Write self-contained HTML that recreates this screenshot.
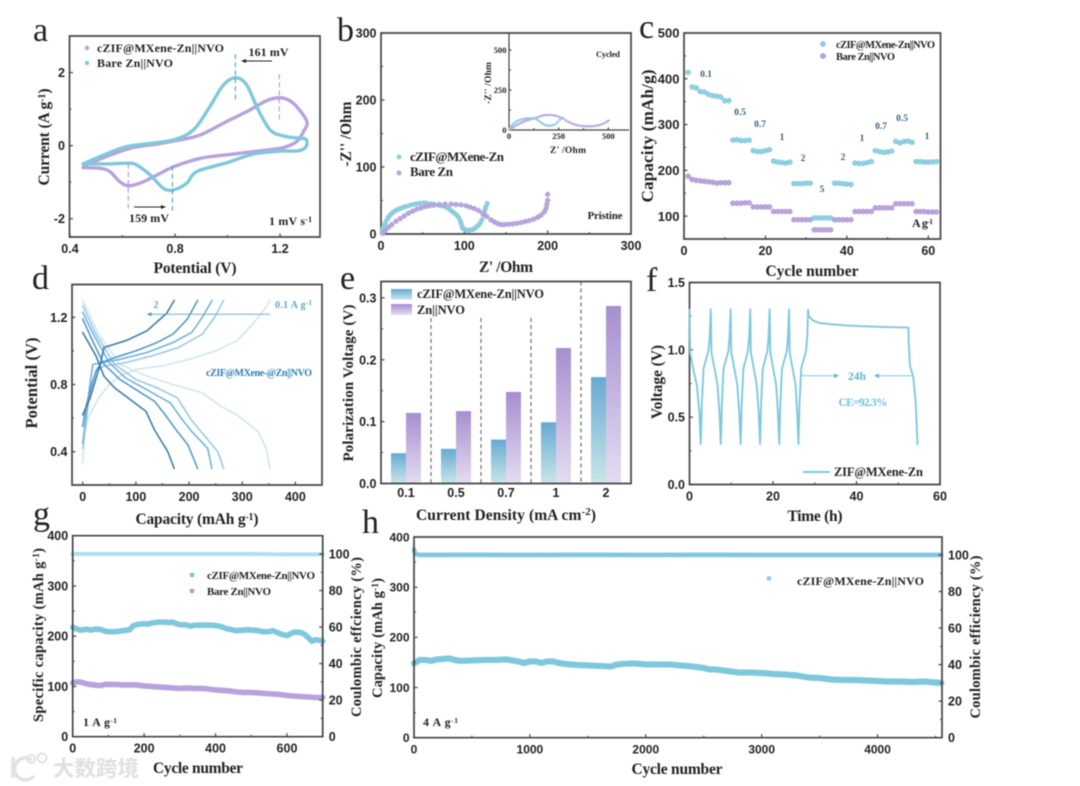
<!DOCTYPE html>
<html lang="en">
<head>
<meta charset="utf-8">
<title>Zn||NVO battery electrochemical performance figure</title>
<style>
html,body{margin:0;padding:0;background:#fff;}
svg{display:block;filter:blur(.55px);}
.s{font-family:"Liberation Serif",serif;font-weight:bold;fill:#222;}
.r{font-family:"Liberation Serif",serif;font-weight:normal;fill:#222;}
.n{font-family:"Liberation Sans",sans-serif;font-weight:bold;fill:#222;}
</style>
</head>
<body>
<svg id="fig" xmlns="http://www.w3.org/2000/svg" width="1080" height="786" viewBox="0 0 1080 786">
<defs>
<linearGradient id="gradBlue" x1="0" y1="0" x2="0" y2="1"><stop offset="0" stop-color="#68a9d2"/><stop offset="1" stop-color="#c8e7e8"/></linearGradient>
<linearGradient id="gradPurple" x1="0" y1="0" x2="0" y2="1"><stop offset="0" stop-color="#a78ed0"/><stop offset="1" stop-color="#e4def1"/></linearGradient>
</defs>

<!-- panel letters -->
<text class="r" x="33" y="41" font-size="34">a</text>
<text class="r" x="337" y="41" font-size="34">b</text>
<text class="r" x="639" y="38" font-size="34">c</text>
<text class="r" x="32" y="289" font-size="34">d</text>
<text class="r" x="340" y="289" font-size="34">e</text>
<text class="r" x="646" y="291" font-size="34">f</text>
<text class="r" x="33" y="525" font-size="34">g</text>
<text class="r" x="362" y="533" font-size="34">h</text>

<!-- axis titles -->
<text class="s" x="195" y="273" font-size="15.5" text-anchor="middle" textLength="83">Potential (V)</text>
<text class="s" x="49" y="137" font-size="15.5" text-anchor="middle" textLength="97" transform="rotate(-90 49 137)">Current (A g<tspan dy="-4" font-size="10">-1</tspan><tspan dy="4">)</tspan></text>
<text class="s" x="506" y="272" font-size="15.5" text-anchor="middle" textLength="54">Z' /Ohm</text>
<text class="s" x="351" y="134" font-size="15.5" text-anchor="middle" textLength="65" transform="rotate(-90 351 134)">-Z'' /Ohm</text>
<text class="s" x="812" y="276" font-size="15.5" text-anchor="middle" textLength="93">Cycle number</text>
<text class="s" x="653" y="136" font-size="17" text-anchor="middle" textLength="133" transform="rotate(-90 653 136)">Capacity (mAh/g)</text>
<text class="s" x="197" y="524" font-size="15.5" text-anchor="middle" textLength="123">Capacity (mAh g<tspan dy="-4" font-size="10">-1</tspan><tspan dy="4">)</tspan></text>
<text class="s" x="37" y="383" font-size="16.5" text-anchor="middle" textLength="91" transform="rotate(-90 37 383)">Potential (V)</text>
<text class="s" x="506" y="520" font-size="15.5" text-anchor="middle" textLength="180">Current Density (mA cm<tspan dy="-5" font-size="11">-2</tspan><tspan dy="5">)</tspan></text>
<text class="s" x="353" y="383" font-size="15" text-anchor="middle" textLength="157" transform="rotate(-90 353 383)">Polarization Voltage (V)</text>
<text class="s" x="815" y="521" font-size="15.5" text-anchor="middle" textLength="55">Time (h)</text>
<text class="s" x="662" y="382" font-size="15.5" text-anchor="middle" textLength="74" transform="rotate(-90 662 382)">Voltage (V)</text>
<text class="s" x="198" y="773" font-size="15.5" text-anchor="middle" textLength="90">Cycle number</text>
<text class="s" x="43" y="635" font-size="14.5" text-anchor="middle" textLength="174" transform="rotate(-90 43 635)">Specific capacity (mAh g<tspan dy="-4" font-size="9.5">-1</tspan><tspan dy="4">)</tspan></text>
<text class="s" x="361" y="637" font-size="14.5" text-anchor="middle" textLength="160" transform="rotate(-90 361 637)">Coulombic effciency (%)</text>
<text class="s" x="677" y="774" font-size="15.5" text-anchor="middle" textLength="91">Cycle number</text>
<text class="s" x="382" y="638" font-size="14.5" text-anchor="middle" textLength="120" transform="rotate(-90 382 638)">Capacity (mAh g<tspan dy="-4" font-size="9.5">-1</tspan><tspan dy="4">)</tspan></text>
<text class="s" x="980" y="637" font-size="14.5" text-anchor="middle" textLength="163" transform="rotate(-90 980 637)">Coulombic efficiency (%)</text>

<!-- annotations a -->
<text class="s" x="97" y="52" font-size="12" textLength="127">cZIF@MXene-Zn||NVO</text>
<text class="s" x="97" y="67" font-size="12" textLength="76">Bare Zn||NVO</text>
<circle cx="87" cy="48" r="2.2" fill="#b7a3dc"/>
<circle cx="87" cy="63" r="2.2" fill="#7fc8dc"/>
<text class="s" x="248.500" y="56" font-size="12" textLength="40">161 mV</text>
<text class="s" x="129" y="222" font-size="12" textLength="40">159 mV</text>
<text class="s" x="269" y="225" font-size="12" textLength="43">1 mV s<tspan dy="-3" font-size="8">-1</tspan></text>

<!-- annotations b -->
<text class="s" x="410" y="161" font-size="13" textLength="94">cZIF@MXene-Zn</text>
<text class="s" x="410" y="176" font-size="13" textLength="43">Bare Zn</text>
<circle cx="399" cy="157" r="2.5" fill="#8fd0e0"/>
<circle cx="399" cy="173" r="2.5" fill="#b7a3dc"/>
<text class="s" x="605" y="219" font-size="11" text-anchor="middle" textLength="35">Pristine</text>
<text class="s" x="608" y="57" font-size="8.500" text-anchor="middle" textLength="24">Cycled</text>
<text class="s" x="568" y="153" font-size="9.5" text-anchor="middle" textLength="36">Z' /Ohm</text>
<text class="s" x="491" y="83" font-size="9.5" text-anchor="middle" textLength="42" transform="rotate(-90 491 83)">-Z'' /Ohm</text>

<!-- annotations c -->
<text class="s" x="836" y="48" font-size="10.500" textLength="99">cZIF@MXene-Zn||NVO</text>
<text class="s" x="836" y="60" font-size="10.500" textLength="59">Bare Zn||NVO</text>
<circle cx="823" cy="44" r="2.6" fill="#8fd0e0" stroke="#6fb8cc" stroke-width=".5"/>
<circle cx="823" cy="56" r="2.6" fill="#b7a3dc" stroke="#a08bcb" stroke-width=".5"/>
<text class="s" x="912" y="227" font-size="12" textLength="21">A g<tspan dy="-3" font-size="7.5">-1</tspan></text>
<g class="s" font-size="9.500" text-anchor="middle" style="fill:#35607c">
<text class="s" style="fill:#35607c" x="706" y="77">0.1</text>
<text class="s" style="fill:#35607c" x="740" y="115">0.5</text>
<text class="s" style="fill:#35607c" x="760" y="127">0.7</text>
<text class="s" style="fill:#35607c" x="782" y="140">1</text>
<text class="s" style="fill:#35607c" x="803" y="161">2</text>
<text class="s" style="fill:#35607c" x="822" y="192">5</text>
<text class="s" style="fill:#35607c" x="843" y="160">2</text>
<text class="s" style="fill:#35607c" x="862" y="141">1</text>
<text class="s" style="fill:#35607c" x="881" y="129">0.7</text>
<text class="s" style="fill:#35607c" x="902" y="121">0.5</text>
<text class="s" style="fill:#35607c" x="927" y="139">1</text>
</g>

<!-- annotations d -->
<text class="s" style="fill:#5fa5cf" x="156" y="308" font-size="10" text-anchor="middle">2</text>
<text class="s" style="fill:#5fa5cf" x="275" y="308" font-size="10" textLength="37">0.1 A g<tspan dy="-3" font-size="7">-1</tspan></text>
<text class="s" style="fill:#2f7db2" x="206" y="376" font-size="10" textLength="106">cZIF@MXene-@Zn||NVO</text>

<!-- annotations e -->
<rect x="391" y="289" width="21" height="10.500" fill="url(#gradBlue)"/>
<rect x="391" y="304" width="21" height="11" fill="url(#gradPurple)"/>
<text class="s" x="417" y="298" font-size="12.5" textLength="127">cZIF@MXene-Zn||NVO</text>
<text class="s" x="417" y="314" font-size="12.5" textLength="48">Zn||NVO</text>

<!-- annotations f -->
<g fill="none" stroke="#7fc8dc" stroke-width="1">
<path d="M800 375.700H838"/>
<path d="M912 375.700H875"/>
</g>
<path d="M839 375.700l-5-2.500v5z" fill="#6ab7cf"/>
<path d="M874 375.700l5-2.500v5z" fill="#6ab7cf"/>
<text class="s" style="fill:#5db4d0" x="857" y="380" font-size="11.5" text-anchor="middle">24h</text>
<text class="s" style="fill:#6fc0d8" x="863" y="406" font-size="11.5" text-anchor="middle" textLength="49">CE=92.3%</text>
<path d="M803 472H830" stroke="#7fc8dc" stroke-width="2"/>
<text class="s" x="834" y="476" font-size="12.5" textLength="89">ZIF@MXene-Zn</text>

<!-- annotations g -->
<circle cx="192" cy="575" r="2.500" fill="#7fc8dc"/>
<circle cx="192" cy="591" r="2.500" fill="#b7a3dc"/>
<text class="s" x="207" y="579" font-size="11" textLength="108">cZIF@MXene-Zn||NVO</text>
<text class="s" x="207" y="595" font-size="11" textLength="64">Bare Zn||NVO</text>
<text class="s" x="83" y="726" font-size="12" textLength="34">1 A g<tspan dy="-3" font-size="7.5">-1</tspan></text>

<!-- annotations h -->
<circle cx="769" cy="578.500" r="2.500" fill="#8fd0e0"/>
<text class="s" x="797" y="585" font-size="12" textLength="127">cZIF@MXene-Zn||NVO</text>
<text class="s" x="423" y="726" font-size="12" textLength="35">4 A g<tspan dy="-3" font-size="7.5">-1</tspan></text>

<!-- watermark -->
<g>
<path d="M13 757V778M32 760a11 11 0 1 0 2 16" fill="none" stroke="#e2e2e2" stroke-width="3.500"/>
<circle cx="31" cy="759" r="4" fill="none" stroke="#e2e2e2" stroke-width="2"/>
<circle cx="42" cy="758" r="4.500" fill="none" stroke="#e2e2e2" stroke-width="2"/>
<text x="53" y="776" font-size="21.500" fill="#e0e0e0" font-weight="bold" style="font-family:'Liberation Sans','Noto Sans CJK SC',sans-serif">大数跨境</text>
</g>
</svg>

<script>
// ---------- panel a: CV ----------
const cvBareV = [0.45,0.514,0.603,0.68,0.793,0.87,0.933,0.984,1.032,1.073,1.117,1.162,1.213,1.276,1.30,1.299,1.27,1.2,1.098,0.997,0.883,0.844,0.794,0.756,0.705,0.654,0.622,0.552,0.45];
const cvBareI = [-0.5,-0.3,-0.05,0.04,0.155,0.43,1.07,1.66,1.86,1.66,0.98,0.43,0.265,0.2,0.17,-0.03,-0.14,-0.15,-0.23,-0.47,-0.71,-1.03,-1.21,-1.17,-0.8,-0.53,-0.48,-0.5,-0.5];
const cvCzifV = [0.45,0.514,0.552,0.59,0.625,0.679,0.743,0.794,0.895,1.022,1.149,1.213,1.263,1.289,1.302,1.263,1.232,1.197,1.149,1.073,0.997,0.895,0.806,0.73,0.641,0.552,0.463,0.45];
const cvCzifI = [-0.6,-0.62,-0.71,-0.99,-1.1,-0.99,-0.76,-0.58,-0.35,-0.23,-0.12,-0.05,0.11,0.38,0.66,1.07,1.25,1.31,1.23,0.93,0.66,0.29,0.14,0.04,-0.05,-0.26,-0.53,-0.6];
const cvXTicks = [0.4,0.8,1.2];
const cvXLabels = ['0.4','0.8','1.2'];
const cvYTicks = [-2,0,2];
const cvYLabels = ['-2','0','2'];

// ---------- panel b: Nyquist ----------
const eisCzifX = [1.5,3,5,7,9,11,13,15,18,21,24,27,30,34,38,42,46,51,55,60,64,69,73,77,80,83,86,88,91,93,95,96,97,98,100,101,103,105,108,111,113,115,117,119,121,123,124,125,126,127.5];
const eisCzifY = [6,11,16,21,25,28,31,33,35,37,38.5,40,41,42.5,44,45,46,46.5,46,45,44,43,42,41,39,36,33,31,28,25,20,16,12,8.5,7,6,5.5,5.5,6,7,9,11,13,16,21,28,32,37,41,45.5];
const eisBareX = [2,5,9,13,18,23,28,33,38,43,48,53,58,63,70,77,84,90,96,102,107,112,117,122,127,132,136,140,144,148,153,158,163,168,173,178,183,188,192,196,198,199,200,200];
const eisBareY = [1,5,10,14,19,23,27,31,34,37,39,41,42,43,44,44.5,44.5,44,43.5,42,40,38,35,31,26,21,18,15.5,14,14,14.5,15,16,17,18.5,20,22,25,28,33,38,44,50,59];
const eisInsetCzifX = [3,8,14,20,28,36,45,55,65,75,85,95,105,115,125,135,145,155,165,175,185,195,205,215,225,235,245,255,262,270];
const eisInsetCzifY = [8,18,28,36,44,52,58,63,67,70,72,73,73,73,72,70,62,52,42,35,30,28,27,28,31,38,50,63,72,76];
const eisInsetBareX = [3,10,20,30,40,50,60,70,80,90,100,110,120,130,142,154,166,178,190,202,214,226,238,250,262,274,286,298,310,322,334,346,358,370,382,394,406,418,430,442,454,466,478,490,500];
const eisInsetBareY = [3,8,16,24,32,38,44,50,55,60,64,68,71,74,78,84,89,92,94,94,94,92,88,83,77,70,60,52,45,38,33,29,26,25,24,23,23,24,25,27,30,35,42,50,58];
const eisTicks = [0,100,200,300];
const eisLabels = ['0','100','200','300'];
const eisInsetTicks = [0,250,500];
const eisInsetLabels = ['0','250','500'];

// ---------- panel c: rate ----------
const rateCycles = [1,2,3,4,5,6,7,8,9,10,11,12,13,14,15,16,17,18,19,20,21,22,23,24,25,26,27,28,29,30,31,32,33,34,35,36,37,38,39,40,41,42,43,44,45,46,47,48,49,50,51,52,53,54,55,56,57,58,59,60,61,62];
const rateCzif = [414,382,380,372,371,366,363,362,360,352,352,266,267,265,265,266,243,241,241,243,245,220,218,217,216,218,171,171,171,172,172,96,96,96,96,96,172,172,171,170,169,216,215,215,217,219,243,241,239,240,242,263,260,263,264,261,219,219,218,218,218,219];
const rateBare = [187,180,178,177,176,175,174,172,173,173,173,128,128,128,129,129,120,120,120,120,120,110,110,110,110,110,92,92,92,92,92,70,70,70,70,70,92,92,92,92,92,110,110,110,110,110,118,118,118,118,118,127,127,127,127,127,110,110,110,109,109,109];
const rateXTicks = [0,20,40,60];
const rateXLabels = ['0','20','40','60'];
const rateYTicks = [100,200,300,400,500];
const rateYLabels = ['100','200','300','400','500'];

// ---------- panel d: GCD at rates ----------
const gcdChargeX2 = [0,14,33,40,83,121,158,172];
const gcdChargeV2 = [0.62,0.72,0.92,1.02,1.063,1.12,1.224,1.3];
const gcdDischargeX2 = [0,25,40,60,119,135,160,172];
const gcdDischargeV2 = [1.11,0.97,0.85,0.78,0.64,0.53,0.4,0.3];
const gcdChargeX1 = [0,5,15,25,35,60,100,140,170,197,216];
const gcdChargeV1 = [0.55,0.65,0.78,0.88,0.93,0.96,1.0,1.05,1.1,1.19,1.3];
const gcdDischargeX1 = [0,20,40,70,100,135,155,178,198,216];
const gcdDischargeV1 = [1.19,1.05,0.92,0.83,0.77,0.7,0.62,0.52,0.44,0.3];
const gcdChargeX07 = [0,6,12,19,30,70,120,170,205,225,243];
const gcdChargeV07 = [0.45,0.6,0.76,0.92,0.925,0.95,0.99,1.05,1.11,1.2,1.3];
const gcdDischargeX07 = [0,20,50,80,120,165,185,205,235,243];
const gcdDischargeV07 = [1.23,1.1,0.93,0.84,0.77,0.69,0.6,0.52,0.42,0.3];
const gcdChargeX05 = [0,5,12,25,40,80,130,180,225,248,265];
const gcdChargeV05 = [0.42,0.55,0.72,0.88,0.91,0.93,0.97,1.02,1.1,1.2,1.3];
const gcdDischargeX05 = [0,25,60,100,140,178,204,233,254,265];
const gcdDischargeV05 = [1.27,1.1,0.92,0.83,0.78,0.72,0.59,0.48,0.4,0.3];
const gcdChargeX01 = [0,3,10,30,50,70,100,150,200,250,290,320,340,352];
const gcdChargeV01 = [0.33,0.5,0.6,0.72,0.8,0.85,0.89,0.91,0.95,1.0,1.06,1.16,1.24,1.3];
const gcdDischargeX01 = [0,30,70,120,170,225,260,290,330,345,352];
const gcdDischargeV01 = [1.3,1.1,0.92,0.85,0.8,0.75,0.67,0.62,0.52,0.42,0.3];
const gcdXTicks = [0,100,200,300,400];
const gcdXLabels = ['0','100','200','300','400'];
const gcdYTicks = [0.4,0.8,1.2];
const gcdYLabels = ['0.4','0.8','1.2'];

// ---------- panel e: polarization bars ----------
const polCategories = ['0.1','0.5','0.7','1','2'];
const polCzif = [0.049,0.056,0.071,0.099,0.172];
const polZn = [0.114,0.117,0.148,0.219,0.287];
const polYTicks = [0,0.1,0.2,0.3];
const polYLabels = ['0.0','0.1','0.2','0.3'];

// ---------- panel f: self-discharge ----------
const sdTime = [0,0.16,1,1.76,2.4,2.7,2.95,3.36,4.5,4.85,5.1,5.25,6,6.7,7.2,7.5,7.75,8.15,9.3,9.6,9.85,10,10.75,11.45,11.95,12.25,12.5,12.9,14,14.3,14.55,14.7,15.4,16.1,16.6,16.9,17.15,17.55,18.65,18.95,19.2,19.35,20.05,20.75,21.2,21.5,21.75,22.15,23.3,23.6,23.85,24,24.7,25.4,25.8,26.1,26.35,26.75,27.9,28.2,28.4,28.55,29.5,31,34,38,42,46,52.4,52.6,52.8,53.6,54.2,54.6];
const sdVolt = [1.3,0.98,0.84,0.74,0.52,0.3,0.6,0.86,0.99,1.1,1.3,0.98,0.86,0.74,0.52,0.3,0.6,0.86,0.99,1.1,1.3,0.98,0.86,0.74,0.52,0.3,0.6,0.86,0.99,1.1,1.3,0.98,0.86,0.74,0.52,0.3,0.6,0.86,0.99,1.1,1.3,0.98,0.86,0.74,0.52,0.3,0.6,0.86,0.99,1.1,1.3,0.98,0.86,0.74,0.52,0.3,0.6,0.86,0.99,1.1,1.3,1.25,1.22,1.2,1.19,1.18,1.175,1.17,1.165,1.0,0.88,0.8,0.6,0.3];
const sdXTicks = [0,20,40,60];
const sdXLabels = ['0','20','40','60'];
const sdYTicks = [0,0.5,1,1.5];
const sdYLabels = ['0.0','0.5','1.0','1.5'];

// ---------- panel g: 1 A/g cycling ----------
const cycGCzifX = [0,10,20,30,40,50,60,70,80,90,100,110,120,130,140,150,160,170,180,190,200,210,220,230,240,250,260,270,280,290,300,310,320,330,340,350,360,370,380,390,400,410,420,430,440,450,460,470,480,490,500,510,520,530,540,550,560,570,580,590,600,610,620,630,640,650,660,670,680,690,700];
const cycGCzifY = [218,215,212,213,214,212,214,214,213,210,209,209,209,210,211,212,213,221,223,224,225,224,226,227,228,228,228,227,228,225,223,223,222,220,222,222,222,222,222,222,221,220,218,215,214,212,211,212,212,213,212,212,211,209,209,209,211,208,205,203,201,205,208,208,207,203,197,190,193,192,190];
const cycGBareX = [0,10,20,30,40,50,60,70,80,90,100,120,140,160,180,200,220,240,260,280,300,320,340,360,380,400,420,440,460,480,500,520,540,560,580,600,620,640,660,680,700];
const cycGBareY = [107,109,109,107,105,104,103,102,102,104,104,104,103,103,103,101,100,99,98,97,96,97,96,96,95,93,92,91,89,88,88,87,86,85,84,82,81,80,79,78,78];
const cycGCeX = [0,100,200,300,400,500,600,700];
const cycGCeY = [100,100,100,100,100,100,99.8,99.8];
const cycGXTicks = [0,200,400,600];
const cycGXLabels = ['0','200','400','600'];
const cycGYTicks = [0,100,200,300,400];
const cycGYLabels = ['0','100','200','300','400'];
const cycRightTicks = [0,20,40,60,80,100];
const cycRightLabels = ['0','20','40','60','80','100'];

// ---------- panel h: 4 A/g cycling ----------
const cycHX = [0,50,100,150,200,250,300,350,400,500,600,700,800,850,900,950,1000,1050,1100,1150,1200,1250,1300,1400,1500,1600,1700,1750,1800,1900,2000,2100,2200,2300,2400,2500,2550,2600,2700,2800,2900,3000,3100,3200,3300,3400,3500,3600,3700,3800,3900,4000,4100,4200,4300,4400,4500,4550];
const cycHY = [148,155,155,153,156,157,158,155,153,154,155,155,156,154,152,149,152,152,149,152,152,149,147,145,144,143,142,146,147,148,146,146,146,144,142,139,136,136,133,130,130,129,127,126,124,120,119,116,115,115,114,113,112,112,111,112,110,109];
const cycHCeX = [0,10,50,500,1000,1500,2000,2500,3000,3500,4000,4550];
const cycHCeY = [103,100.5,100,100.1,100,100.1,100,100.1,100,100,100,100];
const cycHXTicks = [0,1000,2000,3000,4000];
const cycHXLabels = ['0','1000','2000','3000','4000'];
const cycHYTicks = [0,100,200,300,400];
const cycHYLabels = ['0','100','200','300','400'];

// ---------- helpers ----------
const NS = 'http://www.w3.org/2000/svg';
const fig = document.getElementById('fig');
const BLUE = '#7fc8dc', PURPLE = '#b7a3dc', AXIS = '#444';

function mk(tag, attrs, parent) {
  const e = document.createElementNS(NS, tag);
  for (const k in attrs) e.setAttribute(k, attrs[k]);
  (parent || fig).appendChild(e);
  return e;
}
function scale(d0, d1, p0, p1) {
  return v => p0 + (v - d0) * (p1 - p0) / (d1 - d0);
}
function minorsOf(ticks, lo, hi) {
  const out = [];
  const step = ticks[1] - ticks[0];
  for (let i = 0; i < ticks.length; i++) {
    const m = ticks[i] + step / 2;
    if (m > lo && m < hi) out.push(m);
  }
  const first = ticks[0] - step / 2;
  if (first > lo && first < hi) out.push(first);
  return out;
}
function tickLine(x1, y1, x2, y2, w, prefix) {
  const t = mk('line', {x1, y1, x2, y2, stroke: AXIS, 'stroke-width': w});
  
  
}
function tickText(str, x, y, anchor, fs, cls, prefix) {
  const t = mk('text', {x, y, 'text-anchor': anchor, 'font-size': fs, class: cls});
  t.textContent = str;
  
  
}
function frameBox(box, prefix, open) {
  const d = open
    ? `M${box.l} ${box.t}V${box.b}H${box.r}`
    : `M${box.l} ${box.t}H${box.r}V${box.b}H${box.l}Z`;
  const f = mk('path', {d, fill: 'none', stroke: AXIS, 'stroke-width': open ? 1.2 : 1.7});
  
  
}
function xAxis(box, X, vals, labels, prefix, o) {
  const opt = o || {};
  const fs = opt.fs || 12.5, cls = opt.cls || 'n', off = opt.off || 16, len = opt.len || 3.5;
  vals.forEach((v, i) => {
    tickLine(X(v), box.b, X(v), box.b - len, 1.2, prefix + '-x');
    tickText(labels[i], X(v), box.b + off, 'middle', fs, cls, prefix + '-x');
  });
  if (!opt.noMinor) {
    const lo = Math.min(X.dMin, X.dMax), hi = Math.max(X.dMin, X.dMax);
    minorsOf(vals, lo, hi).forEach(v => tickLine(X(v), box.b, X(v), box.b - 2, 1, prefix + '-x-minor'));
  }
}
function yAxis(box, Y, vals, labels, prefix, o) {
  const opt = o || {};
  const fs = opt.fs || 12.5, cls = opt.cls || 'n', off = opt.off || 4.5, len = opt.len || 3.5;
  vals.forEach((v, i) => {
    tickLine(box.l, Y(v), box.l + len, Y(v), 1.2, prefix + '-y');
    tickText(labels[i], box.l - off, Y(v) + fs * 0.36, 'end', fs, cls, prefix + '-y');
  });
  if (!opt.noMinor) {
    minorsOf(vals, Y.dMin, Y.dMax).forEach(v => tickLine(box.l, Y(v), box.l + 2, Y(v), 1, prefix + '-y-minor'));
  }
}
function rightAxis(box, Y, vals, labels, prefix) {
  vals.forEach((v, i) => {
    tickLine(box.r, Y(v), box.r - 3.5, Y(v), 1.2, prefix + '-right');
    tickText(labels[i], box.r + 6, Y(v) + 4.5, 'start', 12.5, 'n', prefix + '-right');
  });
  minorsOf(vals, Y.dMin, Y.dMax).forEach(v => tickLine(box.r, Y(v), box.r - 2, Y(v), 1, prefix + '-right-minor'));
}
function makeScale(d0, d1, p0, p1) {
  const s = scale(d0, d1, p0, p1);
  s.dMin = d0;
  s.dMax = d1;
  return s;
}
function polyPath(xs, ys, X, Y) {
  return xs.map((v, i) => (i ? 'L' : 'M') + X(v).toFixed(2) + ' ' + Y(ys[i]).toFixed(2)).join('');
}
function smoothPath(xs, ys, X, Y) {
  const P = xs.map((v, i) => [X(v), Y(ys[i])]);
  let d = 'M' + P[0][0].toFixed(2) + ' ' + P[0][1].toFixed(2);
  for (let i = 0; i < P.length - 1; i++) {
    const p0 = P[Math.max(i - 1, 0)], p1 = P[i], p2 = P[i + 1], p3 = P[Math.min(i + 2, P.length - 1)];
    const c1x = p1[0] + (p2[0] - p0[0]) / 6, c1y = p1[1] + (p2[1] - p0[1]) / 6;
    const c2x = p2[0] - (p3[0] - p1[0]) / 6, c2y = p2[1] - (p3[1] - p1[1]) / 6;
    d += `C${c1x.toFixed(2)} ${c1y.toFixed(2)} ${c2x.toFixed(2)} ${c2y.toFixed(2)} ${p2[0].toFixed(2)} ${p2[1].toFixed(2)}`;
  }
  return d;
}
function strokeStyle(color, w) {
  return {fill: 'none', stroke: color, 'stroke-width': w, 'stroke-linejoin': 'round', 'stroke-linecap': 'round'};
}
function dotsOf(xs, ys, X, Y, r, fill, edge, name) {
  xs.forEach((v, i) => {
    const c = mk('circle', {cx: X(v), cy: Y(ys[i]), r, fill, stroke: edge, 'stroke-width': 0.5});
    
    
  });
}

// ---------- panel a ----------
const boxA = {l: 69.5, r: 320, t: 36, b: 237};
const aX = makeScale(0.4, 1.356, 70, 321);
const aY = makeScale(-2.5, 3, 237, 36);
frameBox(boxA, 'a');
xAxis(boxA, aX, cvXTicks, cvXLabels, 'a');
yAxis(boxA, aY, cvYTicks, cvYLabels, 'a');
const aPeakLines = [[1.197, 1.95, 0.65, '#b48df0'], [0.622, -0.5, -1.72, '#b48df0'], [1.03, 2.5, 1.2, '#4a9cc4'], [0.79, -0.55, -1.85, '#4a9cc4']];
const cvCzifLine = mk('path', Object.assign({d: smoothPath(cvCzifV, cvCzifI, aX, aY)}, strokeStyle(PURPLE, 3.4)));


const cvBareLine = mk('path', Object.assign({d: smoothPath(cvBareV, cvBareI, aX, aY)}, strokeStyle(BLUE, 3.4)));


aPeakLines.forEach(p => {
  const l = mk('line', {x1: aX(p[0]), x2: aX(p[0]), y1: aY(p[1]), y2: aY(p[2]), stroke: p[3], 'stroke-width': 1.1, 'stroke-dasharray': '5 3'});
  
  
});
const aArrowTop = mk('path', {d: 'M272 61H245', stroke: '#222', 'stroke-width': 1, fill: 'none'});


const aHeadTop = mk('path', {d: 'M241 61l5-2v4z', fill: '#222'});


const aArrowBot = mk('path', {d: 'M134 207H162', stroke: '#222', 'stroke-width': 1, fill: 'none'});


const aHeadBot = mk('path', {d: 'M166 207l-5-2v4z', fill: '#222'});



// ---------- panel b ----------
const boxB = {l: 381, r: 631, t: 33, b: 234};
const bX = makeScale(0, 300, 381, 631);
const bY = makeScale(0, 300, 234, 33);
frameBox(boxB, 'b');
xAxis(boxB, bX, eisTicks, eisLabels, 'b');
yAxis(boxB, bY, eisTicks, eisLabels, 'b');
dotsOf(eisCzifX, eisCzifY, bX, bY, 2.3, '#8fd0e0', '#7cc4d6', 'b-czif-point');
dotsOf(eisBareX, eisBareY, bX, bY, 2.4, '#b9a6de', '#a893d2', 'b-bare-point');
const boxBi = {l: 509, r: 629, t: 33, b: 130};
const biX = makeScale(0, 604, 509, 629);
const biY = makeScale(0, 606, 130, 33);
frameBox(boxBi, 'b-inset', true);
xAxis(boxBi, biX, eisInsetTicks, eisInsetLabels, 'b-inset', {fs: 8.5, cls: 's', off: 9, len: 2.5});
yAxis(boxBi, biY, eisInsetTicks, eisInsetLabels, 'b-inset', {fs: 8.5, cls: 's', off: 2.5, len: 2.5});
dotsOf(eisInsetBareX, eisInsetBareY, biX, biY, 1.1, '#b9a6de', '#b9a6de', 'b-inset-bare-point');
dotsOf(eisInsetCzifX, eisInsetCzifY, biX, biY, 1.1, '#8fd0e0', '#8fd0e0', 'b-inset-czif-point');

// ---------- panel c ----------
const boxC = {l: 684, r: 940.5, t: 33, b: 239};
const cX = makeScale(0, 63, 684, 940.5);
const cY = makeScale(50, 500, 239, 33);
frameBox(boxC, 'c');
xAxis(boxC, cX, rateXTicks, rateXLabels, 'c');
yAxis(boxC, cY, rateYTicks, rateYLabels, 'c', {fs: 13});
dotsOf(rateCycles, rateBare, cX, cY, 2.5, '#b9a6de', '#a08bcb', 'c-bare-point');
dotsOf(rateCycles, rateCzif, cX, cY, 2.5, '#8fd3e2', '#6fb8cc', 'c-czif-point');

// ---------- panel d ----------
const boxD = {l: 72, r: 322, t: 284.5, b: 485};
const dX = makeScale(0, 450, 82.7, 322);
const dY = makeScale(0.4, 1.2, 451.7, 317.3);
frameBox(boxD, 'd');
xAxis(boxD, dX, gcdXTicks, gcdXLabels, 'd');
yAxis(boxD, dY, gcdYTicks, gcdYLabels, 'd');
const dCurves = [
  [gcdChargeX01, gcdChargeV01, gcdDischargeX01, gcdDischargeV01, '#cfe6f0', '0.1'],
  [gcdChargeX05, gcdChargeV05, gcdDischargeX05, gcdDischargeV05, '#9cc9e2', '0.5'],
  [gcdChargeX07, gcdChargeV07, gcdDischargeX07, gcdDischargeV07, '#74b2d8', '0.7'],
  [gcdChargeX1, gcdChargeV1, gcdDischargeX1, gcdDischargeV1, '#559bc8', '1'],
  [gcdChargeX2, gcdChargeV2, gcdDischargeX2, gcdDischargeV2, '#3f7fa8', '2']
];
dCurves.forEach(c => {
  const ch = mk('path', Object.assign({d: polyPath(c[0], c[1], dX, dY)}, strokeStyle(c[4], 1.6)));
  
  
  const dis = mk('path', Object.assign({d: polyPath(c[2], c[3], dX, dY)}, strokeStyle(c[4], 1.6)));
  
  
});
const dArrow = mk('path', {d: 'M270 314.3H150', stroke: '#6eb0d4', 'stroke-width': 1, fill: 'none'});


const dHead = mk('path', {d: 'M146.5 314.3l5-2v4z', fill: '#4f9ccb'});



// ---------- panel e ----------
const boxE = {l: 381, r: 631, t: 281.5, b: 483.5};
const eY = makeScale(0, 0.3265, 483.5, 281.5);
const eBand = (boxE.r - boxE.l) / polCategories.length;
const eCenter = i => boxE.l + (i + 0.5) * eBand;
const eBarW = eBand * 0.3;
polCategories.forEach((c, i) => {
  const a = mk('rect', {x: eCenter(i) - eBarW, y: eY(polCzif[i]), width: eBarW, height: eY(0) - eY(polCzif[i]), fill: 'url(#gradBlue)'});
  
  
  const b = mk('rect', {x: eCenter(i), y: eY(polZn[i]), width: eBarW, height: eY(0) - eY(polZn[i]), fill: 'url(#gradPurple)'});
  
  
  tickText(c, eCenter(i), 497, 'middle', 12.5, 'n', 'e-x');
  if (i < polCategories.length - 1) {
    const sep = mk('line', {x1: boxE.l + (i + 1) * eBand, x2: boxE.l + (i + 1) * eBand, y1: i === 3 ? boxE.t : 318, y2: boxE.b, stroke: '#777', 'stroke-width': 1.3, 'stroke-dasharray': '4 3'});
    
    
  }
});
frameBox(boxE, 'e');
yAxis(boxE, eY, polYTicks, polYLabels, 'e');

// ---------- panel f ----------
const boxF = {l: 689.5, r: 940, t: 282.5, b: 484.5};
const fX = makeScale(0, 60, 689.5, 940);
const fY = makeScale(0, 1.5, 484.5, 282.5);
frameBox(boxF, 'f');
xAxis(boxF, fX, sdXTicks, sdXLabels, 'f');
yAxis(boxF, fY, sdYTicks, sdYLabels, 'f');
const sdLine = mk('path', Object.assign({d: polyPath(sdTime, sdVolt, fX, fY)}, strokeStyle(BLUE, 1.9)));



// ---------- panel g ----------
const boxG = {l: 72.7, r: 322.7, t: 535.7, b: 736.7};
const gX = makeScale(0, 700, 72.7, 322.7);
const gY = makeScale(0, 400, 736.7, 535.7);
const gR = makeScale(0, 110, 736.7, 535.7);
const gCe = mk('path', Object.assign({d: polyPath(cycGCeX, cycGCeY, gX, gR)}, strokeStyle('#aee0ee', 4)));


const gCap1 = mk('path', Object.assign({d: polyPath(cycGCzifX, cycGCzifY, gX, gY)}, strokeStyle(BLUE, 5.6)));


const gCap2 = mk('path', Object.assign({d: polyPath(cycGBareX, cycGBareY, gX, gY)}, strokeStyle(PURPLE, 5.6)));


frameBox(boxG, 'g');
xAxis(boxG, gX, cycGXTicks, cycGXLabels, 'g');
yAxis(boxG, gY, cycGYTicks, cycGYLabels, 'g');
rightAxis(boxG, gR, cycRightTicks, cycRightLabels, 'g');

// ---------- panel h ----------
const boxH = {l: 414, r: 942, t: 537, b: 737.7};
const hX = makeScale(0, 4556, 414, 942);
const hY = makeScale(0, 400, 737.7, 537);
const hR = makeScale(0, 110, 737.7, 536.7);
const hCe = mk('path', Object.assign({d: polyPath(cycHCeX, cycHCeY, hX, hR)}, strokeStyle(BLUE, 4.6)));


const hCap = mk('path', Object.assign({d: polyPath(cycHX, cycHY, hX, hY)}, strokeStyle(BLUE, 6.2)));


frameBox(boxH, 'h');
xAxis(boxH, hX, cycHXTicks, cycHXLabels, 'h', {fs: 12});
yAxis(boxH, hY, cycHYTicks, cycHYLabels, 'h', {fs: 12});
rightAxis(boxH, hR, cycRightTicks, cycRightLabels, 'h');
</script>
</body>
</html>
